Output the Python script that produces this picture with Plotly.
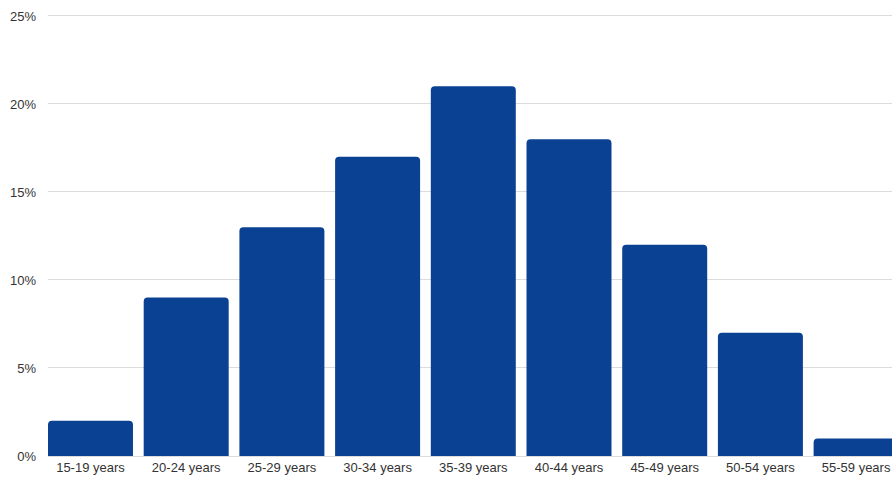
import plotly.graph_objects as go

categories = ["15-19 years", "20-24 years", "25-29 years", "30-34 years", "35-39 years",
              "40-44 years", "45-49 years", "50-54 years", "55-59 years"]
values = [2, 9, 13, 17, 21, 18, 12, 7, 1]
y_ticks = [0, 5, 10, 15, 20, 25]
y_tick_labels = ["0%", "5%", "10%", "15%", "20%", "25%"]

fig = go.Figure(go.Bar(
    x=categories, y=values,
    marker=dict(color="#0a4192", line=dict(width=0), cornerradius=4),
    hoverinfo="skip",
))

fig.update_layout(
    width=892, height=479,
    margin=dict(l=48, r=0, t=14, b=23),
    paper_bgcolor="white", plot_bgcolor="white",
    bargap=0.112,
    showlegend=False,
    font=dict(family="Liberation Sans, Arial, sans-serif", size=13, color="#333333"),
)
fig.update_xaxes(
    type="category",
    range=[-0.444, 8.375],
    showgrid=False, zeroline=False, showline=False,
    ticks="", ticklabelstandoff=2,
    tickfont=dict(size=13, color="#333333"),
)
fig.update_yaxes(
    range=[0, 25.11],
    tickvals=y_ticks, ticktext=y_tick_labels,
    showgrid=True, gridcolor="#dcdcdc", gridwidth=1,
    zeroline=True, zerolinecolor="#dcdcdc", zerolinewidth=1,
    showline=False, ticks="",
    ticklabelstandoff=11,
    tickfont=dict(size=13, color="#333333"),
)

fig.write_html("out.html")
